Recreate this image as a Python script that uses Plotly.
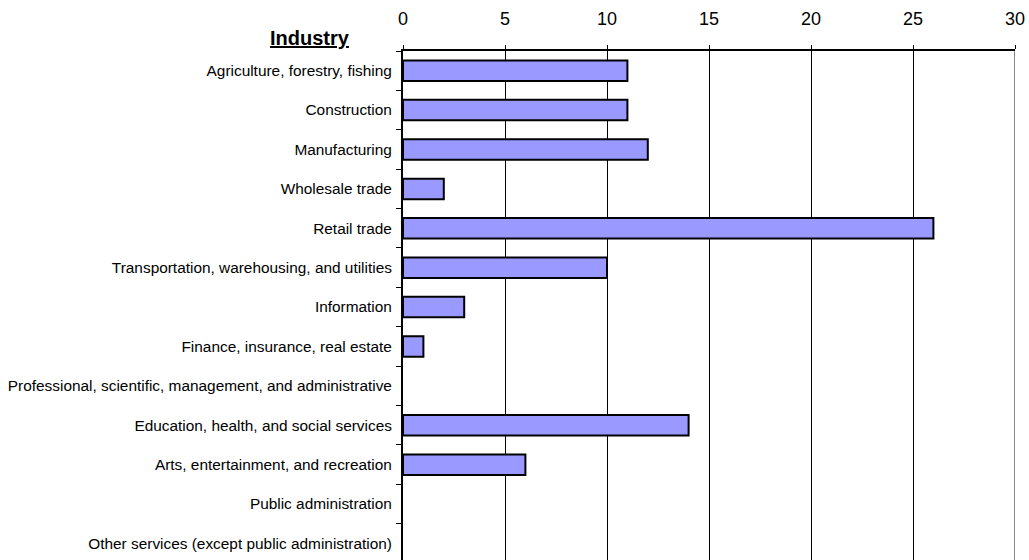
import plotly.graph_objects as go

categories = [
    "Agriculture, forestry, fishing",
    "Construction",
    "Manufacturing",
    "Wholesale trade",
    "Retail trade",
    "Transportation, warehousing, and utilities",
    "Information",
    "Finance, insurance, real estate",
    "Professional, scientific, management, and administrative",
    "Education, health, and social services",
    "Arts, entertainment, and recreation",
    "Public administration",
    "Other services (except public administration)",
]
values = [11, 11, 12, 2, 26, 10, 3, 1, 0, 14, 6, 0, 0]
x_ticks = [0, 5, 10, 15, 20, 25, 30]

FONT = "Liberation Sans, Arial, sans-serif"

fig = go.Figure(
    go.Bar(
        x=values,
        y=categories,
        orientation="h",
        marker=dict(
            color="#9999FF",
            line=dict(color="black", width=[2 if v > 0 else 0 for v in values]),
        ),
    )
)

fig.update_layout(
    width=1029,
    height=560,
    margin=dict(l=403, r=14, t=51, b=0),
    paper_bgcolor="white",
    plot_bgcolor="white",
    bargap=0.48,
    showlegend=False,
    font=dict(family=FONT, color="black"),
    xaxis=dict(
        side="top",
        range=[0, 30],
        tickvals=x_ticks,
        ticktext=[str(v) for v in x_ticks],
        tickfont=dict(size=18, family=FONT),
        showgrid=True,
        gridcolor="black",
        gridwidth=1,
        showline=True,
        linecolor="black",
        linewidth=2,
        ticks="outside",
        ticklen=4,
        tickcolor="black",
        zeroline=False,
        ticklabelstandoff=13,
    ),
    yaxis=dict(
        type="category",
        categoryorder="array",
        categoryarray=categories,
        range=[12.42, -0.5],
        tickson="boundaries",
        ticks="outside",
        ticklen=5,
        tickcolor="black",
        tickfont=dict(size=15.4, family=FONT),
        showline=True,
        linecolor="black",
        linewidth=2,
        showgrid=False,
        ticklabelstandoff=6,
    ),
)

fig.add_shape(
    type="line", xref="x", yref="paper", x0=30, x1=30, y0=0, y1=1,
    line=dict(color="#888888", width=2),
)

fig.add_annotation(
    text="<b><u>Industry</u></b>",
    xref="paper", yref="paper", x=-0.152, y=1.0,
    xanchor="center", yanchor="bottom", yshift=0,
    showarrow=False, font=dict(size=20, family=FONT),
)

fig.write_html("out.html")
